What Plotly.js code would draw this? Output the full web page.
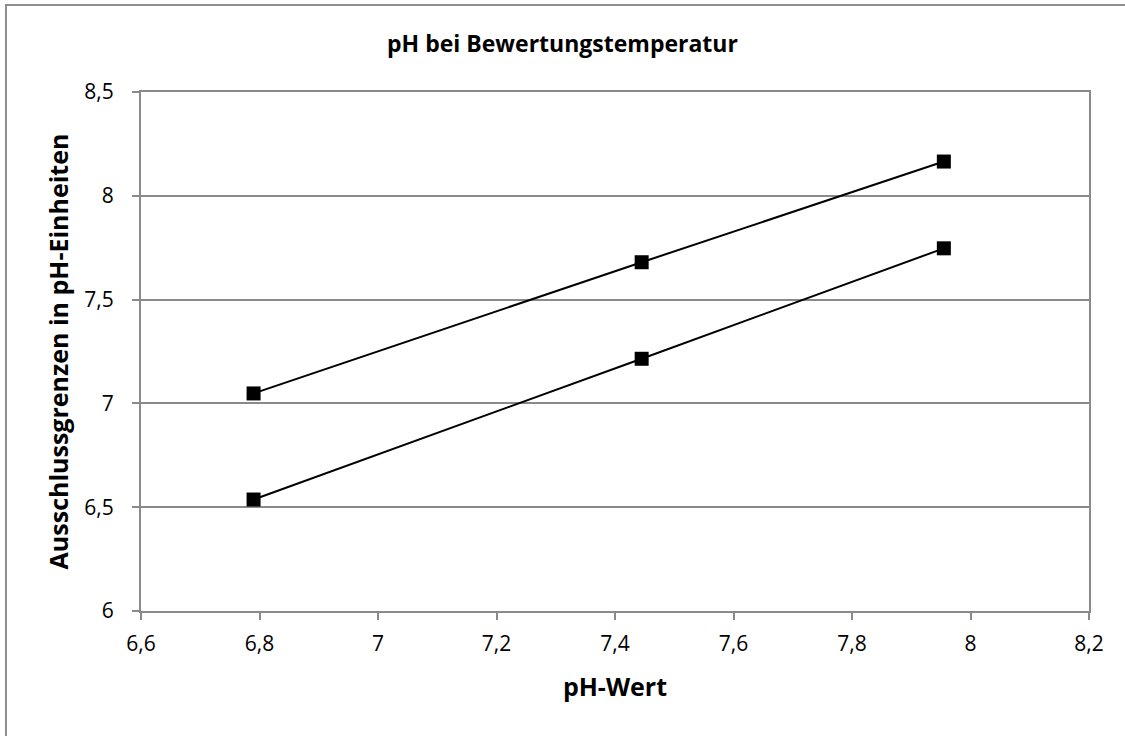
<!DOCTYPE html>
<html>
<head>
<meta charset="utf-8">
<script src="https://cdn.plot.ly/plotly-3.0.1.min.js"></script>
<style>
  html, body { margin: 0; padding: 0; background: #fff; overflow: hidden; }
  #chart { width: 1125px; height: 736px; position: absolute; left: 0; top: 0; }
  #frame { position: absolute; left: 5px; top: 4px; width: 2000px; height: 2000px;
           border-left: 2px solid #8e8e8e; border-top: 2px solid #8e8e8e; pointer-events: none; }
</style>
</head>
<body>
<div id="chart"></div>
<div id="frame"></div>
<script>
const phWert = [6.79, 7.445, 7.955];
const obereGrenze = [7.048, 7.68, 8.165];
const untereGrenze = [6.537, 7.215, 7.747];

const titleText = 'pH bei Bewertungstemperatur';
const xTitle = 'pH-Wert';
const yTitle = 'Ausschlussgrenzen in pH-Einheiten';

const font = '"Open Sans", "Liberation Sans", sans-serif';
const gray = '#8a8a8a';

const common = {
  type: 'scatter', mode: 'lines+markers', x: phWert,
  line: { color: '#000', width: 2 },
  marker: { symbol: 'square', size: 14, color: '#000' },
  showlegend: false
};

const traces = [
  Object.assign({}, common, { y: obereGrenze, name: 'obere Grenze' }),
  Object.assign({}, common, { y: untereGrenze, name: 'untere Grenze' })
];

const layout = {
  width: 1125, height: 736,
  margin: { l: 141, r: 36, t: 92, b: 125 },
  paper_bgcolor: '#fff', plot_bgcolor: '#fff',
  separators: ',.',
  font: { family: font, color: '#000', size: 21 },
  title: { text: titleText, font: { family: font, size: 23, weight: 'bold', color: '#000' },
           x: 0.5, xanchor: 'center', y: 1 - 44/736, yanchor: 'middle' },
  xaxis: {
    range: [6.6, 8.2], tick0: 6.6, dtick: 0.2, autorange: false,
    showgrid: false, zeroline: false,
    showline: true, linecolor: gray, linewidth: 2, mirror: true,
    ticks: 'outside', ticklen: 7, tickcolor: gray, tickwidth: 2,
    ticklabelstandoff: 6,
    tickfont: { family: font, size: 21 },
    title: { text: xTitle, font: { family: font, size: 25, weight: 'bold' }, standoff: 22 }
  },
  yaxis: {
    range: [6, 8.5], tick0: 6, dtick: 0.5, autorange: false,
    showgrid: true, gridcolor: gray, gridwidth: 2, zeroline: false,
    showline: true, linecolor: gray, linewidth: 2, mirror: true,
    ticks: 'outside', ticklen: 7, tickcolor: gray, tickwidth: 2,
    ticklabelstandoff: 14,
    tickfont: { family: font, size: 21 },
    title: { text: yTitle, font: { family: font, size: 25, weight: 'bold' }, standoff: 9 }
  }
};

Plotly.newPlot('chart', traces, layout, { displayModeBar: false, staticPlot: true });
</script>
</body>
</html>
